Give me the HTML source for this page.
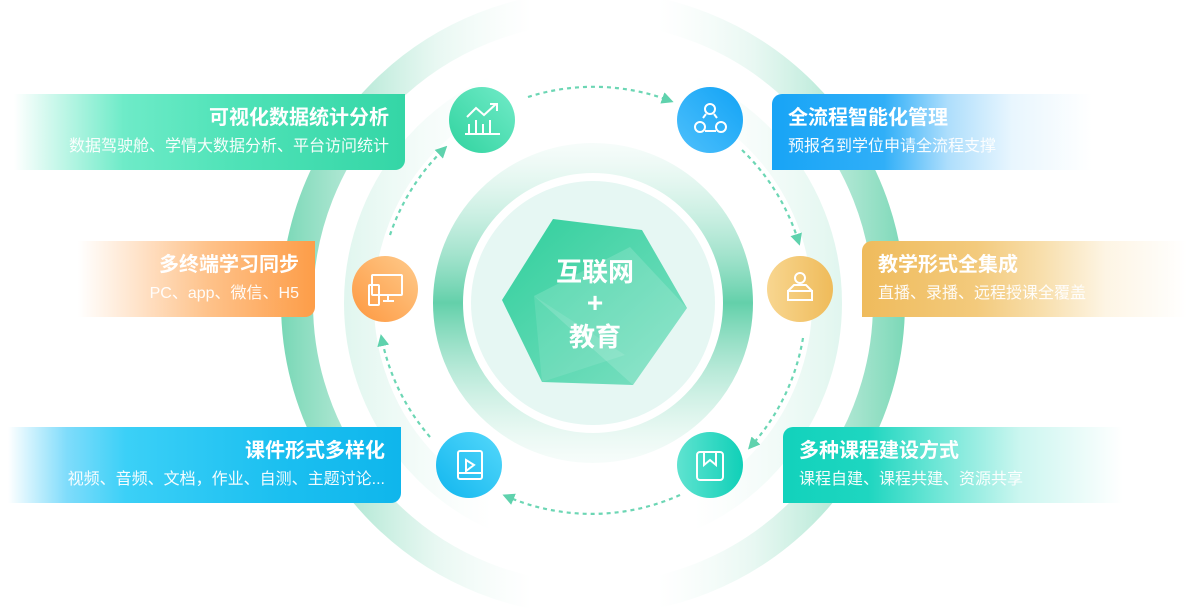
<!DOCTYPE html>
<html><head><meta charset="utf-8">
<style>
html,body{margin:0;padding:0;background:#fff;}
body{width:1200px;height:608px;position:relative;overflow:hidden;font-family:"Liberation Sans","Noto Sans CJK SC",sans-serif;}
.card{position:absolute;height:76px;color:#fff;box-sizing:border-box;}
.card h3{margin:0;font-size:20px;font-weight:bold;line-height:24px;padding-top:12px;}
.card p{margin:0;font-size:16px;line-height:20px;padding-top:7px;opacity:.95;}
.l{text-align:right;padding-right:16px;border-radius:0 0 10px 0;}
.r{text-align:left;padding-left:16px;border-radius:10px 0 0 0;}
svg{position:absolute;left:0;top:0;}
</style></head><body>
<svg width="1200" height="608" viewBox="0 0 1200 608">
<defs>
<linearGradient id="ring" gradientUnits="userSpaceOnUse" x1="280" y1="0" x2="910" y2="0">
<stop offset="0" stop-color="#5fd0a8" stop-opacity=".85"/>
<stop offset=".25" stop-color="#8fdcc0" stop-opacity=".2"/>
<stop offset=".4" stop-color="#bfeadb" stop-opacity="0"/>
<stop offset=".6" stop-color="#bfeadb" stop-opacity="0"/>
<stop offset=".75" stop-color="#8fdcc0" stop-opacity=".2"/>
<stop offset="1" stop-color="#5fd0a8" stop-opacity=".85"/>
</linearGradient>
<linearGradient id="ring2" gradientUnits="userSpaceOnUse" x1="340" y1="0" x2="846" y2="0">
<stop offset="0" stop-color="#c5eee0" stop-opacity=".55"/>
<stop offset=".3" stop-color="#e0f5ee" stop-opacity="0"/>
<stop offset=".7" stop-color="#e0f5ee" stop-opacity="0"/>
<stop offset="1" stop-color="#c5eee0" stop-opacity=".55"/>
</linearGradient>
<linearGradient id="ring3" gradientUnits="userSpaceOnUse" x1="0" y1="143" x2="0" y2="463">
<stop offset="0" stop-color="#d5f2e8" stop-opacity=".2"/>
<stop offset=".5" stop-color="#63d0aa"/>
<stop offset="1" stop-color="#d5f2e8" stop-opacity=".2"/>
</linearGradient>
<linearGradient id="hex" x1="0" y1="0" x2="1" y2="1">
<stop offset="0" stop-color="#30cf9c"/><stop offset="1" stop-color="#7fe0c3"/>
</linearGradient>
<linearGradient id="g1" x1="0" y1="1" x2="1" y2="0"><stop offset="0" stop-color="#30d39f"/><stop offset="1" stop-color="#72ebc8"/></linearGradient>
<linearGradient id="g2" x1="0" y1="1" x2="1" y2="0"><stop offset="0" stop-color="#4ec0fc"/><stop offset="1" stop-color="#12a3f5"/></linearGradient>
<linearGradient id="g3" x1="0" y1="1" x2="1" y2="0"><stop offset="0" stop-color="#fd9840"/><stop offset="1" stop-color="#ffcb8c"/></linearGradient>
<linearGradient id="g4" x1="0" y1="0" x2="1" y2="0"><stop offset="0" stop-color="#f8d690"/><stop offset="1" stop-color="#efbb5a"/></linearGradient>
<linearGradient id="g5" x1="0" y1="1" x2="1" y2="0"><stop offset="0" stop-color="#11b6ee"/><stop offset="1" stop-color="#55d8fb"/></linearGradient>
<linearGradient id="g6" x1="0" y1="0" x2="1" y2="0"><stop offset="0" stop-color="#5fe3d0"/><stop offset="1" stop-color="#10d0b8"/></linearGradient>
<marker id="ar" viewBox="0 0 10 10" refX="5" refY="5" markerWidth="12" markerHeight="12" markerUnits="userSpaceOnUse" orient="auto">
<path d="M0,0 L10,5 L0,10 Z" fill="#5fd2ad"/></marker>
</defs>
<circle cx="593" cy="303" r="296" fill="none" stroke="url(#ring)" stroke-width="32"/>
<circle cx="593" cy="303" r="234" fill="none" stroke="url(#ring2)" stroke-width="30"/>
<circle cx="593" cy="303" r="145" fill="none" stroke="url(#ring3)" stroke-width="30"/>
<circle cx="593" cy="303" r="122" fill="#e6f7f3"/>
<polygon points="553,219 642,230 687,308 633,385 542,382 502,300" fill="url(#hex)"/>
<polygon points="534,296 630,247 687,308 633,385" fill="#fff" opacity=".15"/>
<polygon points="534,296 542,382 625,355" fill="#fff" opacity=".1"/>
<text x="595" y="281" font-size="26" font-weight="bold" fill="#fff" text-anchor="middle" font-family="Liberation Sans,Noto Sans CJK SC,sans-serif">互联网</text>
<text x="595" y="312" font-size="28" font-weight="bold" fill="#fff" text-anchor="middle" font-family="Liberation Sans,sans-serif">+</text>
<text x="595" y="346" font-size="26" font-weight="bold" fill="#fff" text-anchor="middle" font-family="Liberation Sans,Noto Sans CJK SC,sans-serif">教育</text>
<g fill="none" stroke="#6cd6b4" stroke-width="2.2" stroke-dasharray="4 4" marker-end="url(#ar)">
<path d="M528,97 A216 216 0 0 1 668,100"/>
<path d="M742,150 A216 216 0 0 1 798,240"/>
<path d="M803,338 A216 216 0 0 1 752,445"/>
<path d="M680,495 A216 216 0 0 1 508,497"/>
<path d="M430,437 A216 216 0 0 1 382,340"/>
<path d="M390,235 A216 216 0 0 1 443,150"/>
</g>
<circle cx="482" cy="120" r="33" fill="url(#g1)"/>
<circle cx="710" cy="120" r="33" fill="url(#g2)"/>
<circle cx="385" cy="289" r="33" fill="url(#g3)"/>
<circle cx="800" cy="289" r="33" fill="url(#g4)"/>
<circle cx="469" cy="465" r="33" fill="url(#g5)"/>
<circle cx="710" cy="465" r="33" fill="url(#g6)"/>
<g fill="none" stroke="#fff" stroke-width="2">
<path d="M465,134 H500 M469,134 V124 M476,134 V120 M483,134 V124 M490,134 V120 M467,117 L476,108 L484,115 L496,104 M490,104 H497 V111"/>
<circle cx="710" cy="109" r="5"/><circle cx="700" cy="127" r="5"/><circle cx="721" cy="127" r="5"/>
<path d="M705,131 H716 M703,118 L706,114 M717,118 L714,114"/>
<rect x="369" y="285" width="10" height="20" rx="1"/><rect x="372" y="275" width="30" height="20" rx="1"/><path d="M383,301 H394 M388,296 V301"/>
<circle cx="800" cy="278" r="5"/><path d="M788,300 H812 V291 H788 Z M788,291 L794,285 H806 L812,291"/>
<rect x="458" y="451" width="24" height="28" rx="2"/><path d="M458,473 H482 M466,460 L474,465 L466,471 Z"/>
<rect x="697" y="452" width="26" height="28" rx="3"/><path d="M704,452 V465 L710,460 L716,465 V452"/>
</g>
</svg>
<div class="card l" style="left:14px;top:94px;width:391px;background:linear-gradient(90deg,rgba(52,214,168,0),#6eebc8 28%,#50e3b8 55%,#34d6a6)"><h3>可视化数据统计分析</h3><p>数据驾驶舱、学情大数据分析、平台访问统计</p></div>
<div class="card l" style="left:78px;top:241px;width:237px;background:linear-gradient(90deg,rgba(255,160,80,0),rgba(255,200,150,.5) 25%,#fec28a 55%,#fd9d48)"><h3>多终端学习同步</h3><p>PC、app、微信、H5</p></div>
<div class="card l" style="left:8px;top:427px;width:393px;background:linear-gradient(90deg,rgba(80,210,250,0),#7fdcfb 15%,#3bd0f7 30%,#1bbff0 70%,#0fb6ec)"><h3>课件形式多样化</h3><p>视频、音频、文档，作业、自测、主题讨论...</p></div>
<div class="card r" style="left:772px;top:94px;width:320px;background:linear-gradient(90deg,#18a4f6,#30aff8 35%,rgba(120,200,250,.6) 55%,rgba(210,237,253,.5) 75%,rgba(255,255,255,0))"><h3>全流程智能化管理</h3><p>预报名到学位申请全流程支撑</p></div>
<div class="card r" style="left:862px;top:241px;width:325px;background:linear-gradient(90deg,#efbb5c,#f3ca7c 35%,rgba(246,214,150,.8) 55%,rgba(252,238,210,.6) 75%,rgba(255,255,255,0))"><h3>教学形式全集成</h3><p>直播、录播、远程授课全覆盖</p></div>
<div class="card r" style="left:783px;top:427px;width:340px;background:linear-gradient(90deg,#12d2bc,#1ed6c0 25%,#6de6d6 45%,rgba(170,240,230,.6) 70%,rgba(255,255,255,0))"><h3>多种课程建设方式</h3><p>课程自建、课程共建、资源共享</p></div>
</body></html>
